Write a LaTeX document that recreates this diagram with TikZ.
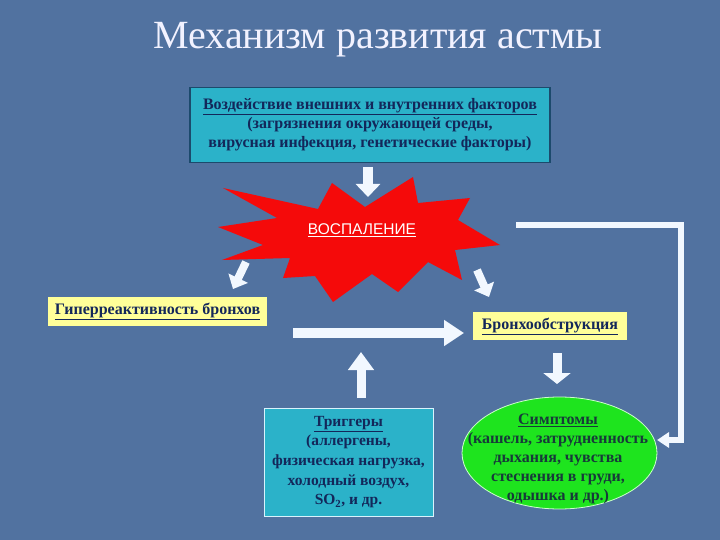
\documentclass[tikz,border=0pt]{standalone}
\usepackage{fontspec}
\setmainfont{Liberation Serif}
\newfontfamily\arialf{Liberation Sans}
\usetikzlibrary{arrows.meta}
\definecolor{bgblue}{HTML}{5172A0}
\definecolor{boxcyan}{HTML}{2BB2C9}
\definecolor{boxedge}{HTML}{1C4A6C}
\definecolor{boxyellow}{HTML}{FFFF99}
\definecolor{boxgreen}{HTML}{1EE41E}
\definecolor{starred}{HTML}{F50A0A}
\definecolor{arrwhite}{HTML}{F2F8FF}
\definecolor{navytext}{HTML}{13275A}
\definecolor{greentext}{HTML}{173A3A}
\tikzset{
  boxtext/.style={font=\bfseries\fontsize{16}{19}\selectfont, text=navytext, align=center},
  blockarrow/.style={draw=arrwhite, line width=#1},
}
\begin{document}
\begin{tikzpicture}[x=1pt,y=-1pt]
\fill[bgblue] (0,0) rectangle (720,540);
\useasboundingbox (0,0) rectangle (720,540);
% title
\node[text=white!95!blue, font=\fontsize{40}{46}\selectfont] (title) at (378,40) {Механизм развития астмы};
% top box
\node[boxtext, fill=boxcyan, draw=boxedge, line width=1.6pt, minimum width=360pt, minimum height=75pt, inner sep=0pt] (factors) at (370,125)
 {\underline{Воздействие внешних и внутренних факторов}\\(загрязнения окружающей среды,\\вирусная инфекция, генетические факторы)};
% star
\fill[starred] (223,188) -- (318,209) -- (332,183) -- (365,207) -- (413,177) -- (418,203) -- (470,198) -- (458,220)
  -- (500,245) -- (455,250) -- (462,280) -- (428,262) -- (398,292) -- (372,274) -- (333,302) -- (315,276)
  -- (283,278) -- (290,258) -- (222,260) -- (263,245) -- (218,227) -- (277,218) -- cycle;
\node[text=white, font=\arialf\fontsize{15.5}{18}\selectfont] (infl) at (362,230) {\underline{ВОСПАЛЕНИЕ}};
% yellow boxes
\node[boxtext, fill=boxyellow, minimum width=219pt, minimum height=29pt, inner sep=0pt] (hyper) at (157.5,311.5)
 {\underline{Гиперреактивность бронхов}};
\node[boxtext, fill=boxyellow, minimum width=154pt, minimum height=28pt, inner sep=0pt] (obstr) at (550,326)
 {\underline{Бронхообструкция}};
% triggers
\node[boxtext, font=\bfseries\fontsize{15.5}{19.7}\selectfont, fill=boxcyan, draw=white!85!cyan, line width=0.8pt, minimum width=169pt, minimum height=108pt, inner sep=0pt] (trig) at (348.5,462)
 {\underline{Триггеры}\\(аллергены,\\физическая нагрузка,\\холодный воздух,\\SO\textsubscript{2}, и др.};
% symptoms
\filldraw[fill=boxgreen, draw=white!80!green, line width=0.8pt] (559.5,453) ellipse [x radius=97.5pt, y radius=56pt];
\node[boxtext, text=greentext, inner sep=0pt] (sympt) at (558,459)
 {\underline{Симптомы}\\(кашель, затрудненность\\дыхания, чувства\\стеснения в груди,\\одышка и др.)};
% arrow end points
\coordinate (a1s) at (368,167); \coordinate (a1e) at (368,197);
\coordinate (a2s) at (246,262); \coordinate (a2e) at (233,289);
\coordinate (a3s) at (477,270); \coordinate (a3e) at (489,297);
\coordinate (a4s) at (293,333); \coordinate (a4e) at (464,333);
\coordinate (a5s) at (361,398); \coordinate (a5e) at (361,352);
\coordinate (a6s) at (557,353); \coordinate (a6e) at (557,384);
\coordinate (l1) at (516,225); \coordinate (l2) at (681,225); \coordinate (l3) at (681,440); \coordinate (l4) at (657,440);
% arrows
\draw[blockarrow=10pt, -{Triangle[width=24pt,length=13pt]}] (a1s) -- (a1e);
\draw[blockarrow=8pt, -{Triangle[width=21pt,length=12pt]}] (a2s) -- (a2e);
\draw[blockarrow=8pt, -{Triangle[width=21pt,length=12pt]}] (a3s) -- (a3e);
\draw[blockarrow=10pt, -{Triangle[width=25pt,length=20pt]}] (a4s) -- (a4e);
\draw[blockarrow=9pt, -{Triangle[width=25pt,length=18pt]}] (a5s) -- (a5e);
\draw[blockarrow=9pt, -{Triangle[width=27pt,length=11pt]}] (a6s) -- (a6e);
\draw[blockarrow=6pt, line join=miter, -{Triangle[width=15pt,length=12pt]}] (l1) -- (l2) -- (l3) -- (l4);
\end{tikzpicture}
\end{document}
